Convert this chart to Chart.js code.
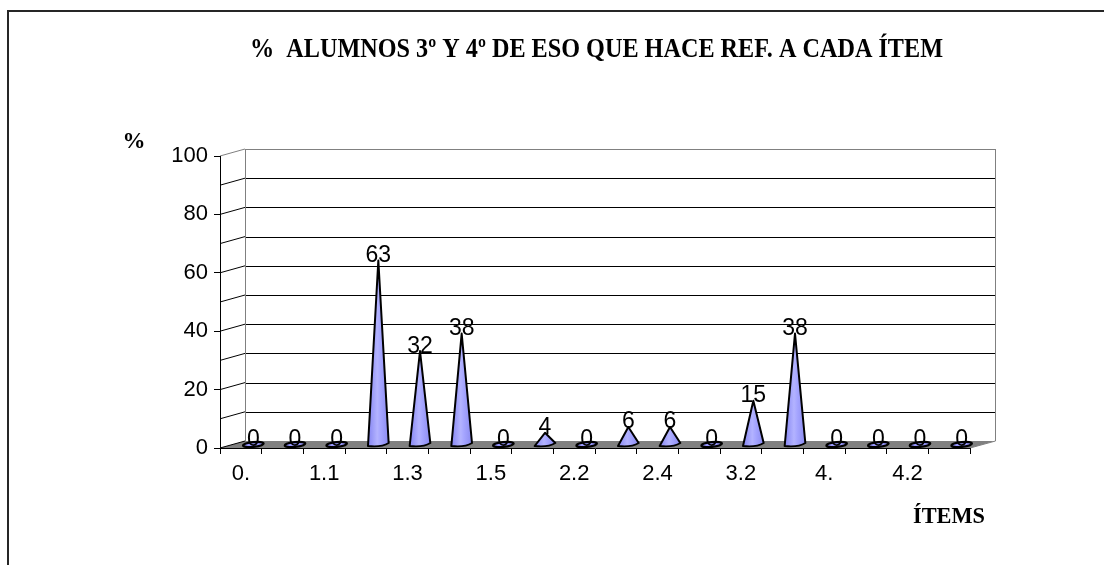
<!DOCTYPE html>
<html>
<head>
<meta charset="utf-8">
<script src="https://cdn.jsdelivr.net/npm/chart.js@4.4.1/dist/chart.umd.min.js"></script>
<style>
  html, body { margin: 0; padding: 0; background: #fff; overflow: hidden; }
  #wrap { width: 1104px; height: 565px; position: relative; }
</style>
</head>
<body>
<div id="wrap"><canvas id="c" width="1104" height="565"></canvas></div>
<script>
// Items surveyed and share of 3rd/4th ESO students referring to each one
const categories = ['0.', '1.', '1.1', '1.2', '1.3', '1.4', '1.5', '2.1', '2.2',
                    '2.3', '2.4', '3.1', '3.2', '3.3', '4.', '4.1', '4.2', '4.3'];
const percentages = [0, 0, 0, 63, 32, 38, 0, 4, 0, 6, 6, 0, 15, 38, 0, 0, 0, 0];
const yAxisMin = 0;
const yAxisMax = 100;
const yAxisStep = 20;
const wallStep = 10;

const chartTitle = '%  ALUMNOS 3º Y 4º DE ESO QUE HACE REF. A CADA ÍTEM';
const yTitle = '%';
const xTitle = 'ÍTEMS';

// 3-D depth offset of the back wall relative to the front axes
const DEPTH_X = 25;
const DEPTH_Y = -7;

const CONE_FILL = '#9999ff';
const SANS = '"Liberation Sans", Arial, sans-serif';
const SERIF = '"Liberation Serif", "Times New Roman", serif';

function drawFittedText(ctx, text, font, x, y, width, align) {
  ctx.save();
  ctx.font = font;
  const w = ctx.measureText(text).width;
  const sx = width / w;
  ctx.translate(x, y);
  ctx.scale(sx, 1);
  ctx.textAlign = align;
  ctx.textBaseline = 'alphabetic';
  ctx.fillStyle = '#000';
  ctx.fillText(text, 0, 0);
  ctx.restore();
}

const scene3d = {
  id: 'scene3d',
  beforeDraw(chart) {
    const ctx = chart.ctx;
    const area = chart.chartArea;
    const y = chart.scales.y;
    ctx.save();
    ctx.fillStyle = '#fff';
    ctx.fillRect(0, 0, chart.width, chart.height);

    // outer frame
    ctx.strokeStyle = '#262626';
    ctx.lineWidth = 2;
    ctx.beginPath();
    ctx.moveTo(8, chart.height);
    ctx.lineTo(8, 11);
    ctx.lineTo(chart.width, 11);
    ctx.stroke();

    // titles
    drawFittedText(ctx, chartTitle, 'bold 27px ' + SERIF, 596.5, 57, 693, 'center');
    drawFittedText(ctx, yTitle, 'bold 23px ' + SERIF, 134, 148, 23, 'center');
    drawFittedText(ctx, xTitle, 'bold 23px ' + SERIF, 913, 523, 72, 'left');

    const bl = area.left + DEPTH_X;
    const br = area.right + DEPTH_X;
    const yb = v => y.getPixelForValue(v) + DEPTH_Y;
    const crisp = p => Math.round(p) + 0.5;

    // floor
    ctx.fillStyle = '#808080';
    ctx.beginPath();
    ctx.moveTo(area.left, y.getPixelForValue(0));
    ctx.lineTo(bl, yb(0));
    ctx.lineTo(br, yb(0));
    ctx.lineTo(area.right, y.getPixelForValue(0));
    ctx.closePath();
    ctx.fill();

    // back wall gridlines and side-wall diagonals
    ctx.lineWidth = 1;
    for (let v = yAxisMin; v <= yAxisMax; v += wallStep) {
      const top = v === yAxisMax;
      ctx.strokeStyle = top ? '#808080' : '#000';
      if (v > yAxisMin) {
        ctx.beginPath();
        ctx.moveTo(bl, crisp(yb(v)));
        ctx.lineTo(br, crisp(yb(v)));
        ctx.stroke();
      }
      ctx.beginPath();
      ctx.moveTo(area.left, y.getPixelForValue(v));
      ctx.lineTo(bl, yb(v));
      ctx.stroke();
    }
    // back wall edges
    ctx.strokeStyle = '#808080';
    ctx.beginPath();
    ctx.moveTo(crisp(bl), yb(0));
    ctx.lineTo(crisp(bl), yb(yAxisMax));
    ctx.moveTo(crisp(br), yb(yAxisMax));
    ctx.lineTo(crisp(br), yb(0));
    ctx.lineTo(area.right, y.getPixelForValue(0));
    ctx.stroke();
    ctx.restore();
  },
  afterDatasetsDraw(chart) {
    const ctx = chart.ctx;
    const y = chart.scales.y;
    const meta = chart.getDatasetMeta(0);
    const baseY = y.getPixelForValue(0) + DEPTH_Y / 2;
    ctx.save();
    meta.data.forEach((el, i) => {
      const v = percentages[i];
      const cx = el.x + DEPTH_X / 2;
      const hw = el.width / 2;
      const apexY = el.y + DEPTH_Y / 2;
      if (v > 0) {
        const g = ctx.createLinearGradient(cx - hw, 0, cx + hw, 0);
        g.addColorStop(0, '#8585f2');
        g.addColorStop(0.45, '#b3b3ff');
        g.addColorStop(0.6, '#a6a6ff');
        g.addColorStop(1, '#8a8af0');
        ctx.fillStyle = g;
        ctx.beginPath();
        ctx.moveTo(cx, apexY);
        ctx.lineTo(cx + hw, baseY - 1.5);
        ctx.quadraticCurveTo(cx + 3, baseY + 3, cx - hw, baseY + 1.5);
        ctx.closePath();
        ctx.fill();
        ctx.strokeStyle = '#000';
        ctx.lineWidth = 2;
        ctx.lineJoin = 'round';
        ctx.stroke();
      } else {
        ctx.beginPath();
        ctx.ellipse(cx, baseY, hw, 2.4, -0.1, 0, Math.PI * 2);
        ctx.fillStyle = CONE_FILL;
        ctx.fill();
        ctx.strokeStyle = '#000';
        ctx.lineWidth = 2.2;
        ctx.stroke();
      }
      // value label
      ctx.font = '23px ' + SANS;
      ctx.fillStyle = '#000';
      ctx.textAlign = 'center';
      ctx.textBaseline = 'alphabetic';
      ctx.fillText(String(v), cx, (v > 0 ? apexY : baseY) + 1.5);
    });
    ctx.restore();
  }
};

new Chart(document.getElementById('c'), {
  type: 'bar',
  data: {
    labels: categories,
    datasets: [{
      label: '%',
      data: percentages,
      backgroundColor: 'rgba(0,0,0,0)',
      borderWidth: 0,
      categoryPercentage: 0.8,
      barPercentage: 0.62
    }]
  },
  options: {
    responsive: false,
    animation: false,
    devicePixelRatio: 1,
    layout: { padding: { top: 156, right: 134, left: 0, bottom: 0 } },
    plugins: {
      legend: { display: false },
      title: { display: false },
      tooltip: { enabled: false }
    },
    scales: {
      x: {
        afterFit: s => { s.height = 117; },
        grid: { offset: true, drawOnChartArea: false, drawTicks: true, tickLength: 6, color: '#000', lineWidth: 1 },
        border: { display: true, color: '#000', width: 1 },
        ticks: {
          autoSkip: false,
          maxRotation: 0,
          padding: 7,
          color: '#000',
          font: { family: SANS, size: 22 },
          callback: (val, idx) => (idx % 2 === 0 ? categories[idx] : '')
        }
      },
      y: {
        min: yAxisMin,
        max: yAxisMax,
        afterFit: s => { s.width = 220; },
        grid: { drawOnChartArea: false, drawTicks: true, tickLength: 6, color: '#000', lineWidth: 1 },
        border: { display: true, color: '#000', width: 1 },
        ticks: {
          stepSize: yAxisStep,
          padding: 6,
          color: '#000',
          font: { family: SANS, size: 22 }
        }
      }
    }
  },
  plugins: [scene3d]
});
</script>
</body>
</html>
